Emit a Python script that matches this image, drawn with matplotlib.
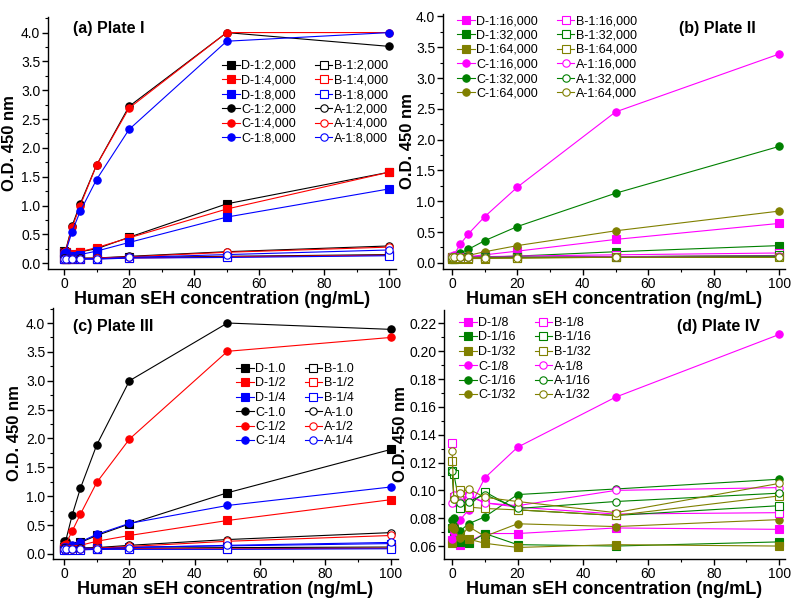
"""Four-plate ELISA titration chart (O.D. 450 nm vs human sEH concentration)."""

import matplotlib

matplotlib.use("Agg")
from matplotlib import pyplot as plt  # noqa: E402
from matplotlib.ticker import MultipleLocator  # noqa: E402

plt.rcParams["font.family"] = ["Liberation Sans", "DejaVu Sans"]

conc = [0, 0.5, 2.5, 5, 10, 20, 50, 100]

# Plate I
a_labels = ["1:2,000", "1:4,000", "1:8,000"]
a_D = [
    [0.21, 0.20, 0.15, 0.20, 0.25, 0.45, 1.03, 1.58],
    [0.20, 0.19, 0.16, 0.20, 0.27, 0.44, 0.94, 1.58],
    [0.18, 0.17, 0.12, 0.15, 0.21, 0.36, 0.80, 1.29],
]
a_C = [
    [0.21, 0.22, 0.65, 1.03, 1.70, 2.72, 4.00, 3.76],
    [0.20, 0.21, 0.62, 1.00, 1.70, 2.69, 4.00, 4.00],
    [0.18, 0.19, 0.55, 0.90, 1.45, 2.32, 3.85, 4.00],
]
a_B = [
    [0.08, 0.08, 0.08, 0.08, 0.08, 0.10, 0.12, 0.15],
    [0.08, 0.07, 0.08, 0.08, 0.08, 0.09, 0.11, 0.14],
    [0.07, 0.07, 0.07, 0.07, 0.07, 0.09, 0.10, 0.13],
]
a_A = [
    [0.09, 0.08, 0.08, 0.09, 0.09, 0.12, 0.20, 0.30],
    [0.08, 0.08, 0.08, 0.08, 0.09, 0.11, 0.19, 0.28],
    [0.08, 0.07, 0.07, 0.08, 0.08, 0.10, 0.15, 0.23],
]

# Plate II
b_labels = ["1:16,000", "1:32,000", "1:64,000"]
b_D = [
    [0.08, 0.08, 0.09, 0.10, 0.13, 0.19, 0.38, 0.64],
    [0.07, 0.07, 0.08, 0.08, 0.09, 0.11, 0.18, 0.28],
    [0.06, 0.06, 0.07, 0.07, 0.07, 0.08, 0.10, 0.11],
]
b_C = [
    [0.10, 0.12, 0.30, 0.47, 0.75, 1.23, 2.45, 3.39],
    [0.09, 0.10, 0.16, 0.22, 0.36, 0.59, 1.13, 1.89],
    [0.08, 0.08, 0.10, 0.12, 0.18, 0.28, 0.52, 0.84],
]
b_B = [
    [0.10, 0.09, 0.09, 0.10, 0.10, 0.11, 0.13, 0.16],
    [0.09, 0.08, 0.08, 0.09, 0.09, 0.09, 0.10, 0.12],
    [0.09, 0.08, 0.08, 0.08, 0.08, 0.08, 0.09, 0.09],
]
b_A = [
    [0.11, 0.10, 0.09, 0.10, 0.09, 0.09, 0.10, 0.11],
    [0.10, 0.09, 0.09, 0.09, 0.09, 0.09, 0.09, 0.10],
    [0.10, 0.09, 0.09, 0.09, 0.08, 0.08, 0.09, 0.09],
]

# Plate III
c_labels = ["1.0", "1/2", "1/4"]
c_D = [
    [0.12, 0.12, 0.14, 0.20, 0.32, 0.52, 1.06, 1.81],
    [0.10, 0.10, 0.12, 0.15, 0.22, 0.32, 0.58, 0.94],
    [0.09, 0.09, 0.10, 0.10, 0.11, 0.12, 0.14, 0.18],
]
c_C = [
    [0.22, 0.23, 0.68, 1.14, 1.89, 3.00, 4.00, 3.89],
    [0.15, 0.17, 0.40, 0.69, 1.24, 1.99, 3.51, 3.75],
    [0.12, 0.12, 0.16, 0.21, 0.34, 0.53, 0.84, 1.16],
]
c_B = [
    [0.08, 0.08, 0.08, 0.08, 0.09, 0.10, 0.11, 0.12],
    [0.08, 0.08, 0.08, 0.08, 0.08, 0.09, 0.09, 0.10],
    [0.07, 0.07, 0.07, 0.07, 0.08, 0.08, 0.08, 0.09],
]
c_A = [
    [0.10, 0.09, 0.09, 0.10, 0.11, 0.15, 0.25, 0.37],
    [0.09, 0.09, 0.09, 0.09, 0.10, 0.13, 0.22, 0.32],
    [0.09, 0.08, 0.08, 0.09, 0.09, 0.11, 0.15, 0.20],
]

# Plate IV
d_labels = ["1/8", "1/16", "1/32"]
d_D = [
    [0.064, 0.070, 0.061, 0.063, 0.069, 0.069, 0.073, 0.072],
    [0.073, 0.066, 0.063, 0.062, 0.069, 0.061, 0.060, 0.063],
    [0.062, 0.074, 0.068, 0.065, 0.062, 0.059, 0.061, 0.060],
]
d_C = [
    [0.065, 0.070, 0.079, 0.086, 0.109, 0.131, 0.167, 0.212],
    [0.079, 0.080, 0.071, 0.076, 0.081, 0.097, 0.101, 0.108],
    [0.074, 0.072, 0.066, 0.074, 0.067, 0.076, 0.074, 0.079],
]
d_B = [
    [0.134, 0.092, 0.093, 0.096, 0.091, 0.088, 0.083, 0.084],
    [0.114, 0.112, 0.087, 0.089, 0.099, 0.086, 0.082, 0.089],
    [0.121, 0.095, 0.100, 0.088, 0.087, 0.086, 0.082, 0.096],
]
d_A = [
    [0.091, 0.097, 0.092, 0.097, 0.091, 0.089, 0.100, 0.102],
    [0.114, 0.094, 0.091, 0.092, 0.097, 0.087, 0.092, 0.098],
    [0.128, 0.094, 0.098, 0.101, 0.095, 0.092, 0.084, 0.105],
]

_WARM = ["#000000", "#ff0000", "#0000ff"]
_COOL = ["#ff00ff", "#008000", "#808000"]
_X_LABEL = "Human sEH concentration (ng/mL)"
_Y_LABEL = "O.D. 450 nm"


def _panel(fig, rect, title, title_xy, labels, groups, colors, xlim, ylim,
           ymajor, yminor, yfmt, legend_xy, ylabel_pad):
    ax = fig.add_axes(rect)
    specs = [("D", "s", True), ("C", "o", True), ("B", "s", False), ("A", "o", False)]
    for (prefix, marker, filled), series in zip(specs, groups):
        for values, label, color in zip(series, labels, colors):
            ax.plot(
                conc,
                values,
                color=color,
                linewidth=0.8,
                marker=marker,
                markersize=5.3,
                markeredgewidth=0.8,
                markerfacecolor=color if filled else "white",
                markeredgecolor=color,
                label=f"{prefix}-{label}",
            )
    ax.set_xlim(*xlim)
    ax.set_ylim(*ylim)
    ax.xaxis.set_major_locator(MultipleLocator(20))
    ax.xaxis.set_minor_locator(MultipleLocator(10))
    ax.yaxis.set_major_locator(MultipleLocator(ymajor))
    ax.yaxis.set_minor_locator(MultipleLocator(yminor))
    ax.yaxis.set_major_formatter(yfmt)
    for side in ("top", "right"):
        ax.spines[side].set_visible(False)
    for side in ("left", "bottom"):
        ax.spines[side].set_linewidth(1.0)
    ax.tick_params(which="major", direction="out", length=4, width=1.0,
                   labelsize=10, pad=1.5)
    ax.tick_params(which="minor", direction="out", length=2.5, width=0.8)
    ax.set_xlabel(_X_LABEL, fontsize=13, fontweight="bold", labelpad=0)
    ax.set_ylabel(_Y_LABEL, fontsize=12, fontweight="bold", labelpad=ylabel_pad)
    fig.text(title_xy[0] / 800, 1 - title_xy[1] / 609, title, fontsize=11.5,
             fontweight="bold", va="center", ha="left")
    ax.legend(
        loc="upper left",
        bbox_to_anchor=(legend_xy[0] / 800, 1 - legend_xy[1] / 609),
        bbox_transform=fig.transFigure,
        ncol=2,
        frameon=False,
        fontsize=9,
        handlelength=1.4,
        handletextpad=0.15,
        columnspacing=1.5,
        labelspacing=0.2,
        borderpad=0,
        borderaxespad=0,
    )
    return ax


def _rect(left, right, top, bottom):
    return [left / 800, 1 - bottom / 609, (right - left) / 800, (bottom - top) / 609]


fig = plt.figure(figsize=(8, 6.09), dpi=100, facecolor="white")

_panel(fig, _rect(48, 396, 17, 269), "(a) Plate I", (73, 29), a_labels,
       [a_D, a_C, a_B, a_A], _WARM, (-4.9, 102.0), (-0.1, 4.27), 0.5, 0.25,
       "{x:.1f}", (222, 60), 3)
_panel(fig, _rect(443, 785, 14, 269), "(b) Plate II", (679, 28), b_labels,
       [b_D, b_C, b_B, b_A], _COOL, (-2.75, 101.8), (-0.1, 4.04), 0.5, 0.25,
       "{x:.1f}", (457, 15), 0.5)
_panel(fig, _rect(53, 398, 308, 559), "(c) Plate III", (73, 327), c_labels,
       [c_D, c_C, c_B, c_A], _WARM, (-3.4, 102.2), (-0.087, 4.26), 0.5, 0.25,
       "{x:.1f}", (236, 363), 3)
_panel(fig, _rect(444, 785, 310, 559), "(d) Plate IV", (677, 327), d_labels,
       [d_D, d_C, d_B, d_A], _COOL, (-2.5, 101.8), (0.0507, 0.2296), 0.02, 0.01,
       "{x:.2f}", (459, 317), 0.5)

fig.savefig("out.png", dpi=100, facecolor="white")
plt.close(fig)
